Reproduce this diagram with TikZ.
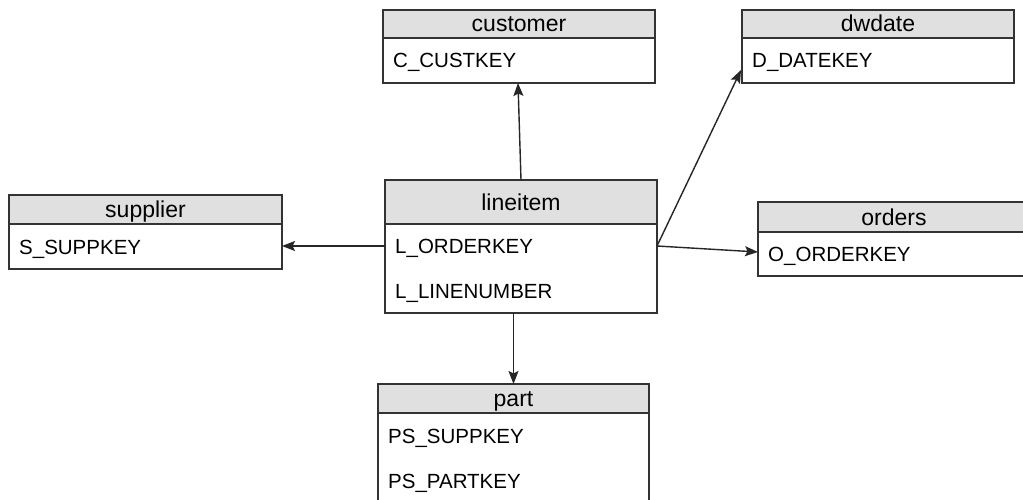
\documentclass[tikz,border=0pt]{standalone}
\usepackage{fontspec}
\setmainfont{Liberation Sans}
\usetikzlibrary{arrows.meta,calc}
\begin{document}
\begin{tikzpicture}[x=1pt,y=-1pt,
  frame/.style={draw=black!80,line width=1.4pt},
  hdr/.style={frame,fill=black!12},
  title/.style={font=\fontsize{23}{25}\selectfont,anchor=base,inner sep=0pt},
  field/.style={font=\fontsize{20.5}{22}\selectfont,anchor=base west,inner sep=0pt},
  link/.style={draw=black!85,line width=1.4pt,-{Stealth[length=13pt,width=10pt,inset=2.5pt]}}]
\useasboundingbox (0,0) rectangle (1023,500);
\clip (0,0) rectangle (1023,500);
\fill[white] (0,0) rectangle (1023,500);

% customer
\draw[hdr] (383,10) rectangle (655,38);
\draw[frame] (383,38) rectangle (655,83);
\node[title] (cust) at (519,32) {customer};
\node[field] (cust1) at (393,68) {C\_CUSTKEY};
\coordinate (custS) at (518,83);

% dwdate
\draw[hdr] (742,10) rectangle (1014,38);
\draw[frame] (742,38) rectangle (1014,83);
\node[title] (dw) at (878,32) {dwdate};
\node[field] (dw1) at (752,68) {D\_DATEKEY};
\coordinate (dwW) at (741,70);

% supplier
\draw[hdr] (9,195) rectangle (282,224);
\draw[frame] (9,224) rectangle (282,269);
\node[title] (sup) at (145.5,217.5) {supplier};
\node[field] (sup1) at (19,254) {S\_SUPPKEY};
\coordinate (supE) at (282,246);

% lineitem
\draw[hdr] (385,180) rectangle (657,224);
\draw[frame] (385,224) rectangle (657,313);
\node[title] (li) at (521,210) {lineitem};
\node[field] (li1) at (395,253) {L\_ORDERKEY};
\node[field] (li2) at (395,298) {L\_LINENUMBER};
\coordinate (liN) at (521,180);
\coordinate (liW) at (385,246);
\coordinate (liE) at (657,246);
\coordinate (liS) at (513.5,313);

% orders
\draw[hdr] (758,202) rectangle (1030,232);
\draw[frame] (758,232) rectangle (1030,276);
\node[title] (ord) at (894,225) {orders};
\node[field] (ord1) at (768,261) {O\_ORDERKEY};
\coordinate (ordW) at (758,252);

% part
\draw[hdr] (378,384) rectangle (649,413);
\draw[frame] (378,413) rectangle (649,520);
\node[title] (part) at (513.5,406.5) {part};
\node[field] (part1) at (388,443) {PS\_SUPPKEY};
\node[field] (part2) at (388,488) {PS\_PARTKEY};
\coordinate (partN) at (513.5,384);

% references from lineitem
\draw[link] (liN) -- (custS);
\draw[link] (liE) -- (dwW);
\draw[link] (liE) -- (ordW);
\draw[link] (liW) -- (supE);
\draw[link] (liS) -- (partN);
\end{tikzpicture}
\end{document}
